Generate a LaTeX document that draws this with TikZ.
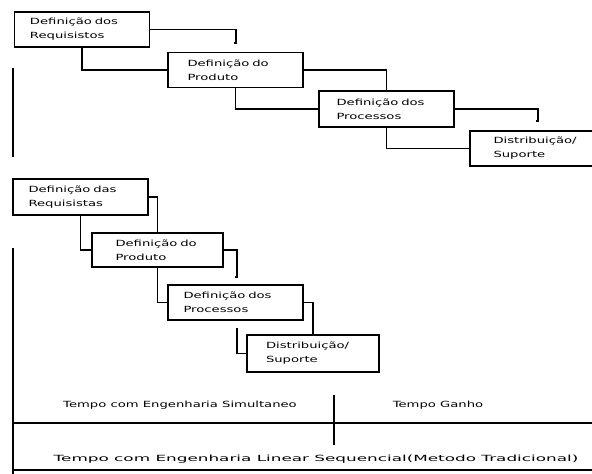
\documentclass[tikz,border=0pt]{standalone}
\usepackage{fontspec}
\setmainfont[FakeStretch=1.55]{DejaVu Sans}
\newfontfamily\widefont[FakeStretch=1.98]{DejaVu Sans}
\tikzset{
    phase/.style={draw, line width=1.4pt, minimum width=135, minimum height=35,
        inner sep=0pt, text width=104, align=left, font=\fontsize{8.5}{14}\selectfont},
    link/.style={line width=1.4pt},
    timelabel/.style={font=\fontsize{8.5}{10}\selectfont}
}
\begin{document}
\begin{tikzpicture}[x=1pt, y=-1pt]
    \useasboundingbox (0,0) rectangle (592,474);

    % Sequencial: fases
    \node[phase] (req1) at (82,29.5) {Definição dos\\Requisistos};
    \node[phase, minimum width=135] (prod1) at (235.5,70) {\hspace*{4pt}Definição do\\\hspace*{4pt}Produto};
    \node[phase, minimum height=36] (proc1) at (386.5,109) {\hspace*{2pt}Definição dos\\\hspace*{2pt}Processos};
    \node[phase, text width=100] (dist1) at (537.5,148.5) {\hspace*{6pt}Distribuição/\\\hspace*{6pt}Suporte};

    % Sequencial: ligacoes
    \coordinate (h1) at (236,43);
    \coordinate (h2) at (538,121);
    \draw[link] (req1.east) -| (h1) -- ++(-2,0);
    \draw[link] (req1.south) |- (prod1.west);
    \draw[link] (prod1.east) -| (proc1.north);
    \draw[link] (prod1.south) |- (proc1.west);
    \draw[link] (proc1.east) -| (h2) -- ++(-2,0);
    \draw[link] (proc1.south) |- (dist1.west);
    \draw[link] (13,68) -- (13,157);

    % Simultaneo: fases
    \node[phase, minimum height=36] (req2) at (80.5,197) {Definição das\\Requisistas};
    \node[phase, minimum width=131, minimum height=34] (prod2) at (157.5,250) {\hspace*{10pt}Definição do\\\hspace*{10pt}Produto};
    \node[phase] (proc2) at (235.5,302.5) {Definição dos\\Processos};
    \node[phase, minimum width=132, minimum height=37, text width=94] (dist2) at (313,353.5) {Distribuição/\\Suporte};

    % Simultaneo: ligacoes
    \coordinate (h3) at (237,277);
    \coordinate (g1) at (237,328);
    \draw[link] (req2.east) -| (prod2.north);
    \draw[link] (req2.south) |- (prod2.west);
    \draw[link] (prod2.east) -| (h3) -- ++(-2,0);
    \draw[link] (prod2.south) |- (proc2.west);
    \draw[link] (proc2.east) -| (dist2.north);
    \draw[link] (g1) |- (dist2.west);

    % Escala de tempo
    \coordinate (l1) at (13,248);
    \coordinate (l2) at (13,474);
    \coordinate (a1) at (13,423);
    \coordinate (a2) at (592,423);
    \coordinate (b1) at (13,470);
    \coordinate (b2) at (592,470);
    \coordinate (m1) at (334,395);
    \coordinate (m2) at (334,445);
    \draw[link] (l1) -- (l2);
    \draw[link] (a1) -- (a2);
    \draw[link] (b1) -- (b2);
    \draw[link] (m1) -- (m2);
    \node[timelabel] (simul) at (180,405) {Tempo com Engenharia Simultaneo};
    \node[timelabel] (ganho) at (438,405) {Tempo Ganho};
    \node[timelabel, font=\widefont\fontsize{8.5}{10}\selectfont] (linear) at (316,459) {Tempo com Engenharia Linear Sequencial(Metodo Tradicional)};
\end{tikzpicture}
\end{document}
